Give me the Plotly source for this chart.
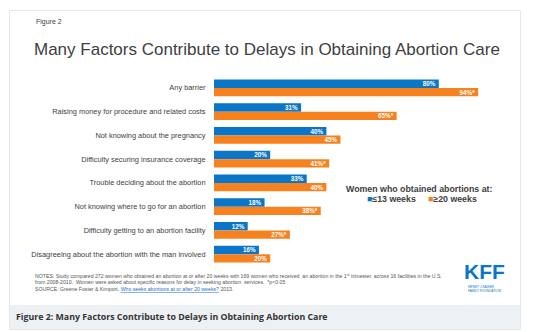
import plotly.graph_objects as go

# Reasons for delay, share of women citing each (percent)
categories = [
    "Any barrier",
    "Raising money for procedure and related costs",
    "Not knowing about the pregnancy",
    "Difficulty securing insurance coverage",
    "Trouble deciding about the abortion",
    "Not knowing where to go for an abortion",
    "Difficulty getting to an abortion facility",
    "Disagreeing about the abortion with the man involved",
]
early_name = "≤13 weeks"
late_name = "≥20 weeks"
early_values = [80, 31, 40, 20, 33, 18, 12, 16]
late_values = [94, 65, 45, 41, 40, 38, 27, 20]
late_significant = [True, True, False, True, False, True, True, False]

BLUE = "#0b76c8"
ORANGE = "#f6821f"
TEXT = "#404040"
FONT = "Liberation Sans, Arial, sans-serif"

W, H = 540, 332
L, R, T, B = 214, 495, 76, 266  # plot area in pixels


def px(x):
    return (x - L) / (R - L)


def py(y):
    return (B - y) / (B - T)


early_text = [f"{v}%" for v in early_values]
late_text = [f"{v}%" + ("*" if s else "") for v, s in zip(late_values, late_significant)]

bar_text_font = dict(color="white", size=6.3, family=FONT, weight="bold")

fig = go.Figure()
fig.add_trace(go.Bar(
    y=categories, x=early_values, orientation="h", name=early_name,
    marker=dict(color=BLUE, line=dict(width=0)),
    text=early_text, textposition="inside", insidetextanchor="end",
    textfont=bar_text_font, textangle=0, constraintext="none",
))
fig.add_trace(go.Bar(
    y=categories, x=late_values, orientation="h", name=late_name,
    marker=dict(color=ORANGE, line=dict(width=0)),
    text=late_text, textposition="inside", insidetextanchor="end",
    textfont=bar_text_font, textangle=0, constraintext="none",
))

shapes = [
    # card outline
    dict(type="rect", xref="paper", yref="paper",
         x0=px(9.5), x1=px(520.5), y0=py(329.5), y1=py(10.5),
         line=dict(color="#e4e8eb", width=1), fillcolor="white", layer="below"),
    # caption band
    dict(type="rect", xref="paper", yref="paper",
         x0=px(10), x1=px(520), y0=py(329), y1=py(305),
         line=dict(width=0), fillcolor="#eef1f3", layer="below"),
]

annotations = [
    dict(text="Figure 2", x=px(34), y=py(22), xanchor="left", yanchor="middle",
         font=dict(size=7, color=TEXT, family=FONT)),
    dict(text="Many Factors Contribute to Delays in Obtaining Abortion Care",
         x=px(32), y=py(49), xanchor="left", yanchor="middle",
         font=dict(size=17, color=TEXT, family=FONT)),
    dict(text="<b>Women who obtained abortions at:</b>", x=px(419), y=py(189),
         xanchor="center", yanchor="middle",
         font=dict(size=8.8, color=TEXT, family=FONT)),
    dict(text=f"<span style='color:{BLUE}'>■</span><b>{early_name}</b>",
         x=px(365), y=py(198.5), xanchor="left", yanchor="middle",
         font=dict(size=8.8, color=TEXT, family=FONT)),
    dict(text=f"<span style='color:{ORANGE}'>■</span><b>{late_name}</b>",
         x=px(426), y=py(198.5), xanchor="left", yanchor="middle",
         font=dict(size=8.8, color=TEXT, family=FONT)),
    dict(text="NOTES: Study compared 272 women who obtained an abortion at or after 20 weeks with 169 women who received  an abortion in the 1<sup>st</sup> trimester, across 16 facilities in the U.S.",
         x=px(33), y=py(275.5), xanchor="left", yanchor="middle",
         font=dict(size=5.2, color="#555555", family=FONT)),
    dict(text="from 2008-2010.  Women were asked about specific reasons for delay in seeking abortion  services.  *p<0.05",
         x=px(33), y=py(281.5), xanchor="left", yanchor="middle",
         font=dict(size=5.2, color="#555555", family=FONT)),
    dict(text="SOURCE: Greene Foster & Kimport. <span style='color:#1f6fd1;text-decoration:underline'>Who seeks abortions at or after 20 weeks?</span> 2013.",
         x=px(33), y=py(289), xanchor="left", yanchor="middle",
         font=dict(size=5.2, color="#555555", family=FONT)),
    dict(text="<b>KFF</b>", x=px(484), y=py(271.5), xanchor="center", yanchor="middle",
         font=dict(size=21, color=BLUE, family=FONT)),
    dict(text="HENRY J KAISER<br>FAMILY FOUNDATION", x=px(466), y=py(289),
         xanchor="left", yanchor="middle", align="left",
         font=dict(size=3.2, color=BLUE, family=FONT)),
    dict(text="<b>Figure 2: Many Factors Contribute to Delays in Obtaining Abortion Care</b>",
         x=px(14), y=py(317), xanchor="left", yanchor="middle",
         font=dict(size=8.8, color="#333333", family="Open Sans, sans-serif")),
]
for a in annotations:
    a.update(xref="paper", yref="paper", showarrow=False)

fig.update_layout(
    width=W, height=H,
    margin=dict(l=L, r=W - R, t=T, b=H - B, pad=0),
    paper_bgcolor="white", plot_bgcolor="rgba(0,0,0,0)",
    barmode="group", bargap=0.3, bargroupgap=0,
    showlegend=False,
    shapes=shapes, annotations=annotations,
    font=dict(family=FONT, color=TEXT),
)
fig.update_xaxes(range=[0, 100], visible=False, fixedrange=True)
fig.update_yaxes(
    autorange="reversed", showgrid=False, zeroline=False, showline=False,
    ticks="outside", ticklen=6, tickcolor="rgba(0,0,0,0)",
    tickfont=dict(size=7.4, color=TEXT, family=FONT), fixedrange=True,
)

fig.write_html("out.html", config={"displayModeBar": False})
